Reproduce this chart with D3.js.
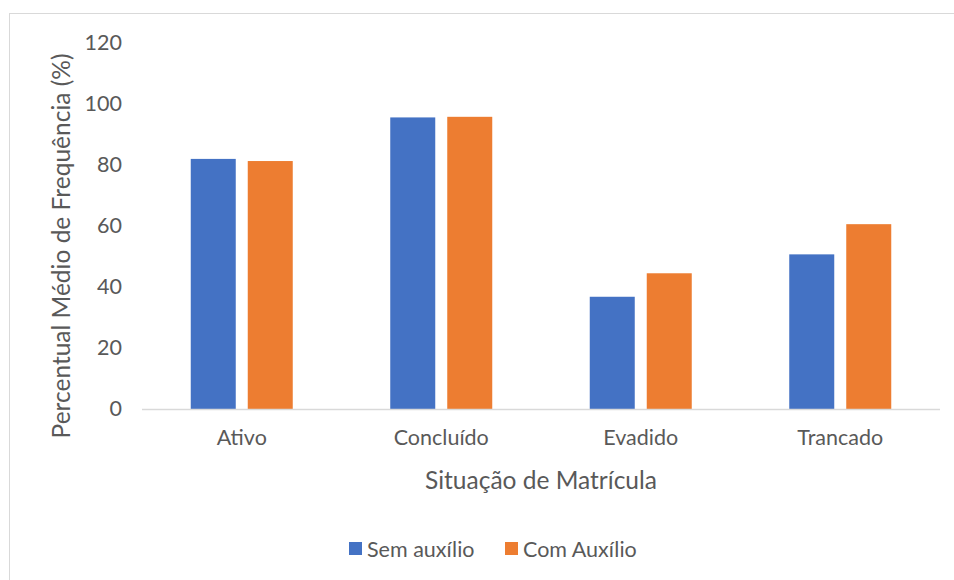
<!DOCTYPE html>
<html>
<head>
<meta charset="utf-8">
<script src="https://cdn.jsdelivr.net/npm/d3@7"></script>
<style>
  html, body { margin: 0; padding: 0; background: #fff; }
  svg text { font-family: "Lato", "Open Sans", sans-serif; fill: #595959; }
</style>
</head>
<body>
<svg id="chart" width="954" height="580"></svg>
<script>
// Average attendance percentage by enrollment status, with and without aid
const categories = ["Ativo", "Concluído", "Evadido", "Trancado"];
const seriesNames = ["Sem auxílio", "Com Auxílio"];
const semAuxilio = [82.0, 95.6, 36.8, 50.7];
const comAuxilio = [81.3, 95.8, 44.5, 60.6];
const yTicks = [0, 20, 40, 60, 80, 100, 120];
const colors = ["#4472C4", "#ED7D31"];

const svg = d3.select("#chart");

// outer chart frame
svg.append("rect")
  .attr("x", 9.5).attr("y", 13.5)
  .attr("width", 960).attr("height", 600)
  .attr("fill", "none").attr("stroke", "#d9d9d9").attr("stroke-width", 1);

const plot = { left: 142, right: 940, top: 43, bottom: 409 };

const x = d3.scaleBand().domain(categories).range([plot.left, plot.right]).paddingInner(0).paddingOuter(0);
const x1 = d3.scaleBand().domain(seriesNames).range([0, 102]).paddingInner(12 / 57);
const y = d3.scaleLinear().domain([0, 120]).range([plot.bottom, plot.top]);

const series = [semAuxilio, comAuxilio];

// bars
const groups = svg.append("g").selectAll("g")
  .data(categories)
  .join("g")
  .attr("transform", d => `translate(${x(d) + (x.bandwidth() - 102) / 2},0)`);

groups.selectAll("rect")
  .data((d, i) => seriesNames.map((s, j) => ({ s, v: series[j][i], j })))
  .join("rect")
  .attr("x", d => x1(d.s))
  .attr("width", x1.bandwidth())
  .attr("y", d => y(d.v))
  .attr("height", d => y(0) - y(d.v))
  .attr("fill", d => colors[d.j]);

// baseline
svg.append("line")
  .attr("x1", plot.left).attr("x2", plot.right)
  .attr("y1", y(0) + 0.5).attr("y2", y(0) + 0.5)
  .attr("stroke", "#d9d9d9").attr("stroke-width", 1.5);

// y tick labels
const yAxis = d3.axisLeft(y).tickValues(yTicks).tickSize(0).tickPadding(0);
const gy = svg.append("g").attr("transform", `translate(${plot.left - 20},0)`).call(yAxis);
gy.select(".domain").remove();
gy.selectAll("text").style("font-size", "21.5px").attr("fill", "#595959")
  .style("font-family", "Lato, 'Open Sans', sans-serif");

// x tick labels
const xAxis = d3.axisBottom(x).tickSize(0).tickPadding(0);
const gx = svg.append("g").attr("transform", `translate(0,${plot.bottom + 21})`).call(xAxis);
gx.select(".domain").remove();
gx.selectAll("text").style("font-size", "21.5px").attr("fill", "#595959")
  .style("font-family", "Lato, 'Open Sans', sans-serif");

// axis titles
svg.append("text")
  .attr("x", (plot.left + plot.right) / 2).attr("y", 489)
  .attr("text-anchor", "middle").style("font-size", "24.5px")
  .text("Situação de Matrícula");

svg.append("text")
  .attr("transform", `translate(70,246) rotate(-90)`)
  .attr("text-anchor", "middle").style("font-size", "24.5px")
  .text("Percentual Médio de Frequência (%)");

// legend
const legendX = [349, 505];
const legend = svg.append("g").selectAll("g")
  .data(seriesNames)
  .join("g")
  .attr("transform", (d, i) => `translate(${legendX[i]},542)`);
legend.append("rect").attr("width", 13).attr("height", 13).attr("fill", (d, i) => colors[i]);
legend.append("text").attr("x", 18).attr("y", 15).style("font-size", "21.5px").text(d => d);
</script>
</body>
</html>
